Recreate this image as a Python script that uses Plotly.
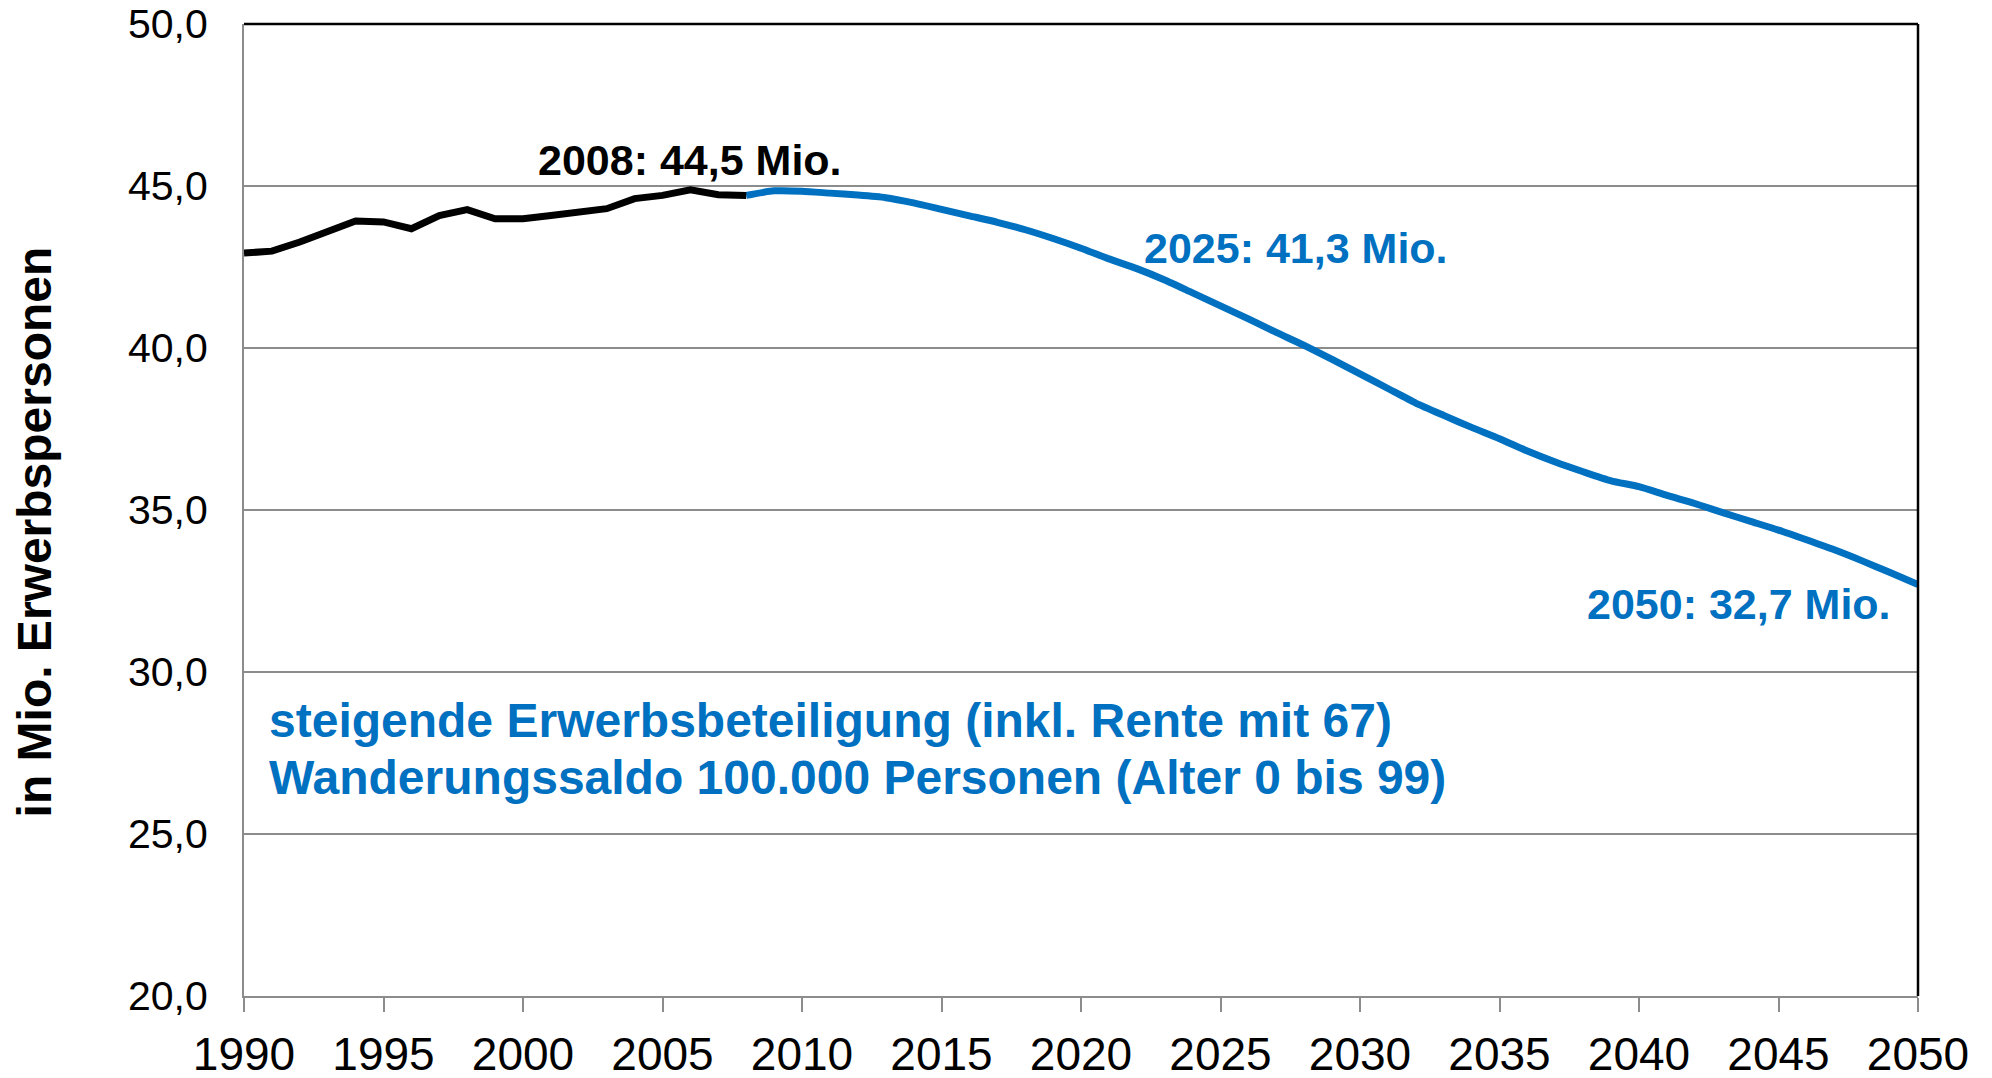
import plotly.graph_objects as go

# Historical (black) series
hist_years = list(range(1990, 2009))
hist_values = [42.93, 42.99, 43.27, 43.58, 43.92, 43.89, 43.68, 44.09, 44.27, 43.99,
               43.99, 44.09, 44.18, 44.30, 44.61, 44.71, 44.88, 44.73, 44.71]

# Projection (blue) series
proj_years = list(range(2008, 2051))
proj_values = [44.71, 44.85, 44.84, 44.78, 44.72, 44.64, 44.48, 44.28, 44.08, 43.88,
               43.65, 43.38, 43.08, 42.75, 42.45, 42.10, 41.70, 41.30, 40.90, 40.48,
               40.08, 39.65, 39.20, 38.75, 38.30, 37.92, 37.55, 37.20, 36.82, 36.48,
               36.18, 35.90, 35.72, 35.45, 35.20, 34.92, 34.65, 34.38, 34.08, 33.77,
               33.43, 33.07, 32.70]

x_ticks = list(range(1990, 2051, 5))
y_ticks = [20, 25, 30, 35, 40, 45, 50]
y_tick_labels = ["20,0", "25,0", "30,0", "35,0", "40,0", "45,0", "50,0"]

BLUE = "#0070C0"
FONT = "Liberation Sans, Arial, sans-serif"

fig = go.Figure()
fig.add_trace(go.Scatter(x=proj_years, y=proj_values, mode="lines",
                         line=dict(color=BLUE, width=7, shape="spline", smoothing=0.6),
                         showlegend=False, hoverinfo="skip"))
fig.add_trace(go.Scatter(x=hist_years, y=hist_values, mode="lines",
                         line=dict(color="black", width=7),
                         showlegend=False, hoverinfo="skip"))

annotations = [
    dict(x=2006.0, y=45.80, text="<b>2008: 44,5 Mio.</b>", showarrow=False,
         xref="x", yref="y", xanchor="center", yanchor="middle",
         font=dict(family=FONT, size=43, color="black")),
    dict(x=2027.71, y=43.10, text="<b>2025: 41,3 Mio.</b>", showarrow=False,
         xref="x", yref="y", xanchor="center", yanchor="middle",
         font=dict(family=FONT, size=43, color=BLUE)),
    dict(x=2043.58, y=32.10, text="<b>2050: 32,7 Mio.</b>", showarrow=False,
         xref="x", yref="y", xanchor="center", yanchor="middle",
         font=dict(family=FONT, size=43, color=BLUE)),
    dict(x=1990.82, y=28.50, text="<b>steigende Erwerbsbeteiligung (inkl. Rente mit 67)</b>",
         showarrow=False, xref="x", yref="y", xanchor="left", yanchor="middle",
         font=dict(family=FONT, size=48, color=BLUE)),
    dict(x=1990.82, y=26.75, text="<b>Wanderungssaldo 100.000 Personen (Alter 0 bis 99)</b>",
         showarrow=False, xref="x", yref="y", xanchor="left", yanchor="middle",
         font=dict(family=FONT, size=48, color=BLUE)),
    dict(x=-0.1254, y=0.477, text="<b>in Mio. Erwerbspersonen</b>", textangle=-90,
         showarrow=False, xref="paper", yref="paper", xanchor="center", yanchor="middle",
         font=dict(family=FONT, size=48, color="black")),
]

fig.update_layout(
    width=1976, height=1062,
    margin=dict(l=236, r=66, t=16, b=74, autoexpand=False),
    paper_bgcolor="white", plot_bgcolor="white",
    annotations=annotations,
    shapes=[
        dict(type="line", xref="paper", yref="paper", x0=0, x1=1, y0=1, y1=1,
             line=dict(color="black", width=2.5)),
        dict(type="line", xref="paper", yref="paper", x0=1, x1=1, y0=0, y1=1,
             line=dict(color="black", width=2.5)),
    ],
)
fig.update_xaxes(range=[1990, 2050], tickmode="array", tickvals=x_ticks,
                 ticks="outside", ticklen=14, tickcolor="#8c8c8c", tickwidth=2,
                 showline=True, linecolor="#8c8c8c", linewidth=2, automargin=False,
                 showgrid=False, zeroline=False, ticklabelstandoff=3,
                 ticklabeloverflow="allow",
                 tickfont=dict(family=FONT, size=46, color="black"))
fig.update_yaxes(range=[20, 50], tickmode="array", tickvals=y_ticks, ticktext=y_tick_labels,
                 ticks="", showline=True, linecolor="#8c8c8c", linewidth=2, automargin=False,
                 showgrid=True, gridcolor="#8c8c8c", gridwidth=2, zeroline=False,
                 ticklabelstandoff=26, ticklabeloverflow="allow",
                 tickfont=dict(family=FONT, size=41, color="black"))

fig.write_html("out.html")
